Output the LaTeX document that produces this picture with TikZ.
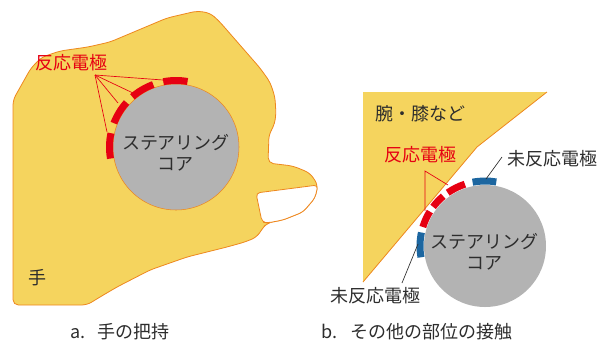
\documentclass[tikz,border=0pt]{standalone}
\usepackage{fontspec}
\setmainfont{Noto Sans CJK JP}
\usepackage{xcolor}

\definecolor{handfill}{RGB}{245,212,94}
\definecolor{handline}{RGB}{238,135,30}
\definecolor{corefill}{RGB}{179,179,179}
\definecolor{elred}{RGB}{230,0,18}
\definecolor{elblue}{RGB}{28,102,160}
\definecolor{txt}{RGB}{45,45,45}

\begin{document}
\begin{tikzpicture}[x=0.75pt,y=0.75pt]
	\tikzstyle{every node}+=[inner sep=0pt, text=txt, font=\fontsize{13.5}{16}\selectfont]
	\tikzstyle{redseg}=[elred, line width=5.25pt]
	\tikzstyle{blueseg}=[elblue, line width=5.25pt]
	\tikzstyle{redlead}=[elred, line width=0.5pt]
	\tikzstyle{blklead}=[txt, line width=0.5pt]
	\useasboundingbox (0,0) rectangle (608,-344);

	% left: hand holding the core
	\draw [handline, fill=handfill, line width=0.6pt, rounded corners=4pt]
		(13,-305) -- (13,-100) -- (22,-84) -- (31,-68) -- (42,-57) -- (60,-51)
		-- (88,-47) -- (110,-42) -- (167,-18) -- (197,-11) -- (210,-13) -- (219,-21)
		-- (260,-68) -- (270,-82) -- (275,-97) -- (276,-115) -- (274,-126) -- (269,-134)
		-- (268,-163) -- (293,-166) -- (310,-173) -- (318,-185) -- (315,-198)
		-- (303,-212) -- (283,-220) -- (267,-223) -- (262,-229) -- (257,-237)
		-- (245,-242) -- (227,-247) -- (187,-257) -- (150,-270) -- (117,-287)
		-- (100,-297) -- (87,-305) -- cycle;
	\draw [handline, fill=white, line width=0.6pt, rounded corners=3pt]
		(256,-193) -- (318,-185) -- (315,-198) -- (303,-212) -- (283,-220)
		-- (267,-223) -- (262,-222) -- cycle;
	\node (hand) at (37,-278) {手};

	\draw [handline, fill=corefill, line width=0.4pt] (176,-147) circle (63);
	\node (coreL) at (176,-147) {};
	\node [align=center] (coreLtxt) at (176,-153) {ステアリング\\コア};
	\foreach \a/\b in {80/101, 110/131, 138/159, 168/190}
		\draw [redseg] (coreL.center) ++(\a:66.5) arc (\a:\b:66.5);

	\node [text=elred] (elL) at (72,-63) {反応電極};
	\coordinate (tipL) at (95,-75);
	\coordinate (segL1) at (163,-80);
	\coordinate (segL2) at (133,-93);
	\coordinate (segL3) at (118,-103);
	\coordinate (segL4) at (107,-132);
	\foreach \s in {segL1, segL2, segL3, segL4}
		\draw [redlead] (tipL) -- (\s);

	% right: contact with an arm or knee
	\fill [handfill] (363,-92) -- (547,-92) -- (477,-147) -- (363,-282) -- cycle;
	\draw [handline, line width=0.6pt] (547,-92) -- (477,-147) -- (363,-282);
	\node (arm) at (420,-114) {腕・膝など};

	\fill [corefill] (485,-246) circle (61);
	\node (coreR) at (485,-246) {};
	\node [align=center] (coreRtxt) at (484,-252) {ステアリング\\コア};
	\foreach \a/\b in {108/125, 130/143, 148/163}
		\draw [redseg] (coreR.center) ++(\a:65) arc (\a:\b:65);
	\foreach \a/\b in {80/101, 168/190}
		\draw [blueseg] (coreR.center) ++(\a:65) arc (\a:\b:65);

	\node [text=elred] (elR) at (420,-155) {反応電極};
	\coordinate (tipR) at (425,-171);
	\coordinate (segR1) at (448,-185);
	\coordinate (segR2) at (425,-211);
	\draw [redlead] (segR1) -- (tipR) -- (segR2);

	\node (offT) at (552,-159) {未反応電極};
	\coordinate (offTa) at (502,-157);
	\coordinate (offTb) at (486,-179);
	\draw [blklead] (offTa) -- (offTb);

	\node (offB) at (375,-296) {未反応電極};
	\coordinate (offBa) at (402,-283);
	\coordinate (offBb) at (418,-244);
	\draw [blklead] (offBa) -- (offBb);

	% captions
	\node (capA) at (120,-332) {a.\hspace{0.7em}手の把持};
	\node (capB) at (417,-332) {b.\hspace{0.7em}その他の部位の接触};
\end{tikzpicture}
\end{document}
